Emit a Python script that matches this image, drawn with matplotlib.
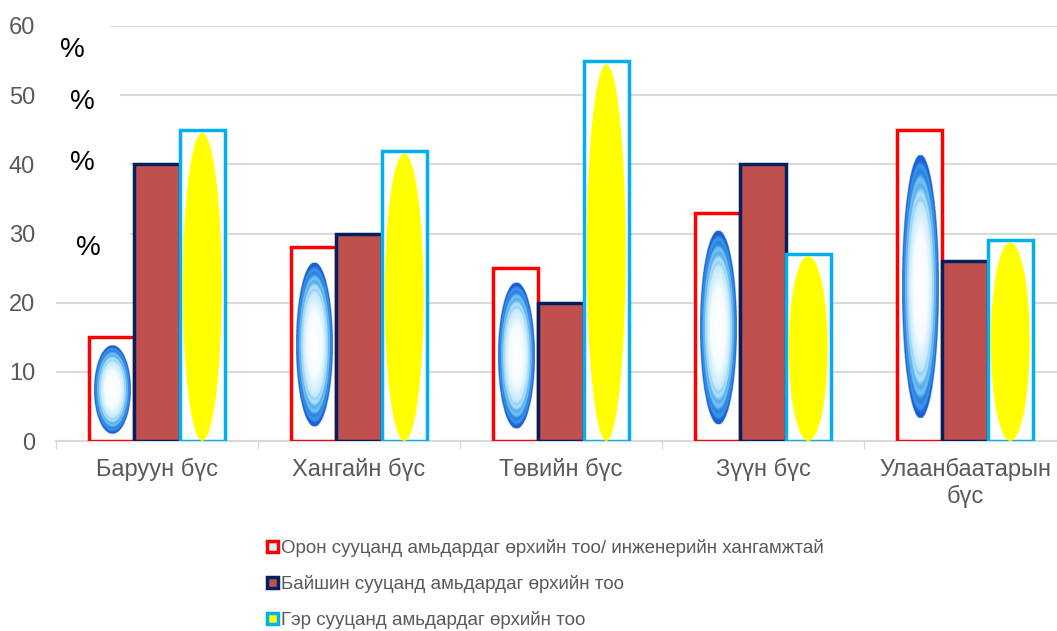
import numpy as np
import matplotlib
matplotlib.use("Agg")
import matplotlib.pyplot as plt
from matplotlib.patches import Ellipse, Rectangle
from matplotlib.colors import LinearSegmentedColormap

plt.rcParams['font.family'] = ['Liberation Sans', 'DejaVu Sans']

regions = ['Баруун бүс', 'Хангайн бүс', 'Төвийн бүс', 'Зүүн бүс', 'Улаанбаатарын\nбүс']
apartment = [15, 28, 25, 33, 45]
house = [40, 30, 20, 40, 26]
ger = [45, 42, 55, 27, 29]
legend_labels = ['Орон сууцанд амьдардаг өрхийн тоо/ инженерийн хангамжтай',
                 'Байшин сууцанд амьдардаг өрхийн тоо',
                 'Гэр сууцанд амьдардаг өрхийн тоо']
y_ticks = [0, 10, 20, 30, 40, 50, 60]

red = '#ff0000'
navy = '#002060'
brown = '#c0504d'
cyan = '#00b0f0'
yellow = '#ffff00'
grey_txt = '#595959'
grid_c = '#d9d9d9'

fig = plt.figure(figsize=(10.57, 6.31), dpi=100)
ax = fig.add_axes([56 / 1057, 190 / 631, 1010 / 1057, 415 / 631])

x = np.arange(len(regions))
w = 0.224

ax.bar(x - w, apartment, w, facecolor='white', edgecolor=red, linewidth=2.5, zorder=2)
ax.bar(x, house, w, facecolor=brown, edgecolor=navy, linewidth=2.5, zorder=3)
ax.bar(x + w, ger, w, facecolor='white', edgecolor=cyan, linewidth=2.5, zorder=4)

# blue glowing ellipse inside the red bars
glow = LinearSegmentedColormap.from_list('glow', [
    (0.0, '#ffffff'), (0.4, '#f6fcff'), (0.62, '#c6e9fb'),
    (0.76, '#74c3f2'), (0.88, '#3590e6'), (1.0, '#1a5fd4')])
n = 240
uu, vv = np.meshgrid(np.linspace(-1, 1, n), np.linspace(-1, 1, n))
rr = np.sqrt(uu ** 2 + vv ** 2)
ring = rr + 0.05 * np.sin(rr * 60) * (rr > 0.65)
img = glow(np.clip(ring, 0, 1))
img[..., 3] = np.where(rr <= 1, 1.0, 0.0)

for xi, v in zip(x - w, apartment):
    y0, y1 = 0.07 * v, 0.92 * v
    ew = 0.8 * w
    ax.imshow(img, extent=[xi - ew / 2, xi + ew / 2, y0, y1], aspect='auto',
              origin='lower', interpolation='bilinear', zorder=2.5)

for xi, v in zip(x + w, ger):
    ax.add_patch(Ellipse((xi, v * 0.495), 0.86 * w, v * 0.99,
                         facecolor=yellow, edgecolor='none', zorder=4.5))

ax.set_xlim(-0.5, len(regions) - 0.5)
ax.set_ylim(0, 60)
ax.set_yticks(y_ticks)
ax.set_xticks(x)
ax.set_xticklabels(regions, fontsize=17, color=grey_txt)
ax.set_xticks(np.arange(len(regions) + 1) - 0.5, minor=True)
ax.tick_params(axis='x', which='major', length=0, pad=12)
ax.tick_params(axis='x', which='minor', length=6, color=grid_c, width=1)
ax.tick_params(axis='y', length=0, pad=15, labelsize=17, labelcolor=grey_txt)

ax.grid(axis='y', color=grid_c, linewidth=1.5)
ax.set_axisbelow(True)
for s in ['left', 'right', 'top']:
    ax.spines[s].set_visible(False)
ax.spines['bottom'].set_color(grid_c)
ax.spines['bottom'].set_linewidth(1.5)
ax.spines['bottom'].set_zorder(1.5)

# stray "%" text boxes over the y axis
pct = [(-0.42, 56.5, -0.233), (-0.37, 49.0, -0.183), (-0.37, 40.2, -0.134), (-0.34, 27.9, -0.134)]
for px, py, right in pct:
    gy = round(py / 10) * 10
    ax.add_patch(Rectangle((-0.5, gy - 1.2), right + 0.5, 2.4, facecolor='white',
                           edgecolor='none', zorder=1, clip_on=False))
    ax.text(px, py, '%', fontsize=20, color='black', ha='center', va='center', zorder=6)

handles = [Rectangle((0, 0), 1, 1, facecolor='#d6efff', edgecolor=red, linewidth=2.5),
           Rectangle((0, 0), 1, 1, facecolor=brown, edgecolor=navy, linewidth=2.5),
           Rectangle((0, 0), 1, 1, facecolor=yellow, edgecolor=cyan, linewidth=2.5)]
leg = fig.legend(handles, legend_labels, loc='upper left', bbox_to_anchor=(258 / 1057, 1 - 530 / 631),
                 frameon=False, fontsize=13.5, labelcolor=grey_txt, handlelength=0.55,
                 handleheight=0.55, handletextpad=0.2, labelspacing=0.95, borderpad=0)

fig.savefig('out.png', dpi=100)
